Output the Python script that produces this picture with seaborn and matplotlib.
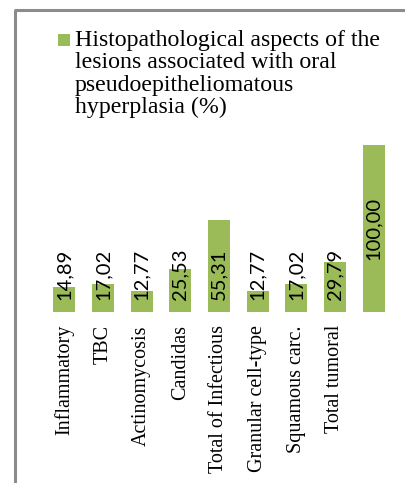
import matplotlib
matplotlib.use("Agg")
import matplotlib.pyplot as plt
from matplotlib.patches import Rectangle
from matplotlib.lines import Line2D
import seaborn as sns

categories = ["Inflammatory", "TBC", "Actinomycosis", "Candidas", "Total of Infectious",
              "Granular cell-type", "Squamous carc.", "Total tumoral", ""]
values = [14.89, 17.02, 12.77, 25.53, 55.31, 12.77, 17.02, 29.79, 100.00]
value_labels = ["14,89", "17,02", "12,77", "25,53", "55,31", "12,77", "17,02", "29,79", "100,00"]
series_name = "Histopathological aspects of the\nlesions associated with oral\npseudoepitheliomatous\nhyperplasia (%)"

GREEN = "#9BBB59"
W, H = 406, 483
sns.set_theme(style="white")

fig = plt.figure(figsize=(W / 100, H / 100), dpi=100)
ax = fig.add_axes([45 / W, 1 - 312 / H, 348 / W, 167 / H])

sns.barplot(x=list(range(len(values))), y=values, color=GREEN, saturation=1,
            width=0.57, ax=ax, edgecolor="none")
ax.set_xlim(-0.5, len(values) - 0.5)
ax.set_ylim(0, 100)
for s in ax.spines.values():
    s.set_visible(False)
ax.set_yticks([])
ax.set_xticks(range(len(categories)))
ax.set_xticklabels(categories, rotation=90, family="Liberation Serif", fontsize=14.5,
                   color="black", ha="center", va="top")
ax.tick_params(axis="x", length=0, pad=9.4)
ax.set_xlabel("")
ax.set_ylabel("")

for i, (v, lab) in enumerate(zip(values, value_labels)):
    if v > 60:
        ax.text(i, v / 2, lab, rotation=90, ha="center", va="center",
                family="Lato", fontsize=14.5, color="black")
    else:
        ax.text(i, 7.2, lab, rotation=90, ha="center", va="bottom",
                family="Lato", fontsize=14.5, color="black")

# legend (manual, top-aligned square)
fig.patches.append(Rectangle((58 / W, 1 - 46 / H), 12 / W, 12 / H,
                             transform=fig.transFigure, facecolor=GREEN, edgecolor="none"))
fig.text(75 / W, 1 - 30 / H, series_name, family="Liberation Serif", fontsize=17.2,
         color="black", ha="left", va="top", linespacing=1.08)

# outer frame (left and top gray lines)
fig.add_artist(Line2D([15.5 / W, 15.5 / W], [0, 1 - 10 / H], transform=fig.transFigure,
                      color="#8c8c8c", linewidth=2.2, solid_capstyle="butt"))
fig.add_artist(Line2D([14.4 / W, 1], [1 - 10 / H, 1 - 10 / H], transform=fig.transFigure,
                      color="#8c8c8c", linewidth=2.2, solid_capstyle="butt"))

fig.savefig("out.png", dpi=100)
